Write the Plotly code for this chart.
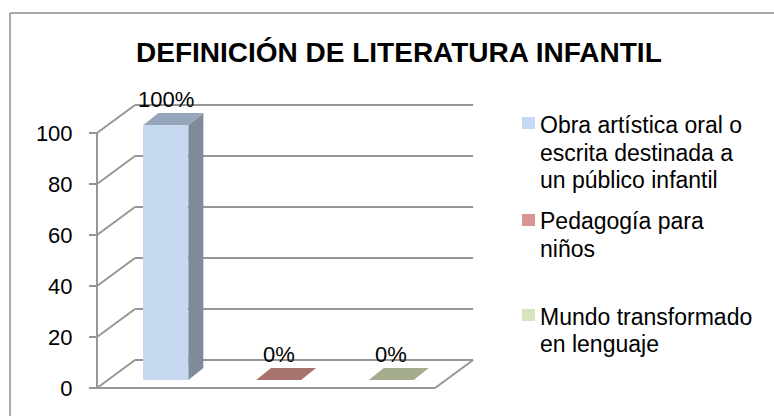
import plotly.graph_objects as go

# ---------------- data ----------------
title_text = "DEFINICIÓN DE LITERATURA INFANTIL"
categories = ["Obra artística oral o<br>escrita destinada a<br>un público infantil",
              "Pedagogía para<br>niños",
              "Mundo transformado<br>en lenguaje"]
values = [100, 0, 0]
tick_values = [0, 20, 40, 60, 80, 100]
tick_labels = ["0", "20", "40", "60", "80", "100"]
front_colors = ["#C6D9F1", "#D99694", "#D7E4BD"]
side_colors = ["#7E8B99", "#A6716F", "#A3AD8E"]
top_colors = ["#97A7BB", "#A8726F", "#A4AE8F"]

# ---------------- geometry ----------------
W, H = 774, 416
ML, MR, MT, MB = 90, 295, 101, 25
PW, PH = W - ML - MR, H - MT - MB
X0_PX, X_SCALE = 97, 112.7          # front-left corner, px per category slot
Y0_PX, Y_SCALE = 360, 2.55          # back-wall zero, px per value unit
DX = 38 / X_SCALE                   # depth shift in x units
DZ = 28 / Y_SCALE                   # depth shift in value units
DZB = 20 / Y_SCALE                  # bar front face depth
BAR_W = 45 / X_SCALE
SX = 15 / X_SCALE
SY = 12 / Y_SCALE
BAR_SHIFT = 12.5 / X_SCALE

xr = [(ML - X0_PX) / X_SCALE, (W - MR - X0_PX) / X_SCALE]
yr = [(Y0_PX - (H - MB)) / Y_SCALE, (Y0_PX - MT) / Y_SCALE]
yr2 = [yr[0] + DZB, yr[1] + DZB]


def px_x(px):
    return (px - ML) / PW


def px_y(py):
    return (H - MB - py) / PH


n = len(values)
centers = [i + 0.5 + BAR_SHIFT for i in range(n)]
grid_color = "#969696"
FONT = "Liberation Sans, Arial, sans-serif"

fig = go.Figure()

# front faces
fig.add_trace(go.Bar(x=centers, y=values, width=BAR_W, marker=dict(color=front_colors, line=dict(width=0)),
                     yaxis="y2", showlegend=False, hoverinfo="skip"))

# side and top faces
for c, v, sc, tc in zip(centers, values, side_colors, top_colors):
    r = c + BAR_W / 2
    l = c - BAR_W / 2
    if v > 0:
        fig.add_trace(go.Scatter(x=[r, r + SX, r + SX, r, r], y=[0, SY, v + SY, v, 0], fill="toself",
                                 fillcolor=sc, mode="lines", line=dict(width=0), yaxis="y2",
                                 showlegend=False, hoverinfo="skip"))
    fig.add_trace(go.Scatter(x=[l, r, r + SX, l + SX, l], y=[v, v, v + SY, v + SY, v], fill="toself",
                             fillcolor=tc, mode="lines", line=dict(width=0), yaxis="y2",
                             showlegend=False, hoverinfo="skip"))

shapes = []
line = dict(color=grid_color, width=2)
for v in tick_values:
    # back wall gridline
    shapes.append(dict(type="line", xref="x", yref="y", x0=DX, x1=n + DX, y0=v, y1=v, line=line, layer="below"))
    # side wall diagonal
    shapes.append(dict(type="line", xref="x", yref="y", x0=0, x1=DX, y0=v - DZ, y1=v, line=line, layer="below"))
# front vertical axis
shapes.append(dict(type="line", xref="x", yref="y", x0=0, x1=0, y0=-DZ, y1=max(tick_values) - DZ, line=line, layer="below"))
# floor front edge and right edge
shapes.append(dict(type="line", xref="x", yref="y", x0=0, x1=n, y0=-DZ, y1=-DZ, line=line, layer="below"))
shapes.append(dict(type="line", xref="x", yref="y", x0=n, x1=n + DX, y0=-DZ, y1=0, line=line, layer="below"))

# outer chart border
border = dict(color="#8C8C8C", width=1.5)
shapes.append(dict(type="line", xref="paper", yref="paper", x0=px_x(10), x1=px_x(10), y0=px_y(13), y1=px_y(H + 5), line=border))
shapes.append(dict(type="line", xref="paper", yref="paper", x0=px_x(10), x1=px_x(W + 5), y0=px_y(13), y1=px_y(13), line=border))

annotations = []
# data labels
for c, v in zip(centers, values):
    annotations.append(dict(x=c, y=v, xref="x", yref="y2", text=f"{v}%", showarrow=False,
                            yshift=26, font=dict(family=FONT, size=22, color="black")))

# legend
legend_line_y = [[125, 152.5, 180], [221, 248.5], [317, 344]]
legend_square_y = [117, 214, 309]
for name, col, lys, sq in zip(categories, front_colors, legend_line_y, legend_square_y):
    shapes.append(dict(type="rect", xref="paper", yref="paper", x0=px_x(522), x1=px_x(535),
                       y0=px_y(sq), y1=px_y(sq + 12), fillcolor=col, line=dict(width=0)))
    for txt, ly in zip(name.split("<br>"), lys):
        annotations.append(dict(x=px_x(538), y=px_y(ly), xref="paper", yref="paper", text=txt,
                                showarrow=False, xanchor="left", yanchor="middle",
                                font=dict(family=FONT, size=23, color="black")))

# title
annotations.append(dict(x=px_x(399), y=px_y(53), xref="paper", yref="paper", text=f"<b>{title_text}</b>",
                        showarrow=False, xanchor="center", yanchor="middle",
                        font=dict(family=FONT, size=28, color="black")))

fig.update_layout(
    width=W, height=H,
    margin=dict(l=ML, r=MR, t=MT, b=MB, pad=0),
    paper_bgcolor="white", plot_bgcolor="rgba(0,0,0,0)",
    showlegend=False,
    xaxis=dict(range=xr, visible=False, fixedrange=True),
    yaxis=dict(range=yr, showgrid=False, zeroline=False, showline=False,
               tickmode="array", tickvals=[v - DZ for v in tick_values], ticktext=tick_labels,
               ticks="outside", ticklen=8, tickwidth=2, tickcolor=grid_color,
               ticklabelstandoff=12, anchor="free", position=(X0_PX - ML) / PW,
               tickfont=dict(family=FONT, size=22, color="black"), fixedrange=True),
    yaxis2=dict(range=yr2, overlaying="y", visible=False, fixedrange=True),
    shapes=shapes,
    annotations=annotations,
    bargap=0,
)

fig.write_html("out.html", config={"displayModeBar": False},
               post_script="document.body.style.margin='0px';")
